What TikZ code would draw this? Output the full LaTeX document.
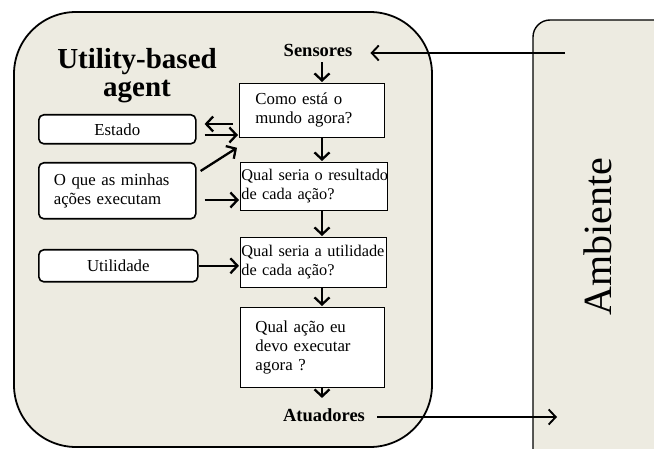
\documentclass[tikz,border=0pt]{standalone}
\usepackage{fontspec}
\setmainfont{Liberation Serif}
\usetikzlibrary{arrows.meta}
\definecolor{panel}{RGB}{237,235,225}
\begin{document}
\begin{tikzpicture}[x=1pt,y=-1pt,
  flow/.style={line width=2.3pt, -{Straight Barb[length=7pt,width=15pt,line width=2.3pt]}},
  link/.style={line width=1.9pt, -{Straight Barb[length=7pt,width=15pt,line width=1.9pt]}},
  qbox/.style={draw, fill=white, line width=0.8pt, anchor=north west, inner ysep=0pt,
    align=left, font=\fontsize{16.8}{19}\selectfont},
  mbox/.style={draw, fill=white, rounded corners=5pt, line width=1.6pt, anchor=north west,
    inner sep=0pt, font=\fontsize{16.8}{19}\selectfont},
  port/.style={font=\bfseries\fontsize{18.5}{20}\selectfont, inner sep=0pt, anchor=base},
]
\useasboundingbox (0,0) rectangle (654,449);
\clip (0,0) rectangle (654,449);

% environment panel
\draw[fill=panel, line width=1.4pt, rounded corners=17pt] (533,20) rectangle (680,480);
\node[rotate=90, font=\fontsize{40}{40}\selectfont, inner sep=0pt] (env) at (598,237) {Ambiente};

% agent panel
\draw[fill=panel, line width=1.8pt, rounded corners=62pt] (14,12) rectangle (432,447);
\node[font=\bfseries\fontsize{29}{28}\selectfont, align=center, inner sep=0pt] (title) at (137,76)
  {Utility-based\\agent};

% sensors and actuators
\node[port] (sens) at (318,57) {Sensores};
\node[port] (act) at (324,421) {Atuadores};
\coordinate (spine) at (322,0);

% reasoning chain
\node[qbox, inner xsep=16pt, text width=113pt, minimum height=54pt] (q1) at (239,83)
  {Como está o\\mundo agora?};
\node[qbox, inner xsep=1pt, text width=145pt, minimum height=48pt,
  font=\fontsize{16.3}{19}\selectfont] (q2) at (240,162)
  {\mbox{Qual seria o resultado}\\de cada ação?};
\node[qbox, inner xsep=1pt, text width=144pt, minimum height=50pt,
  font=\fontsize{16.3}{19}\selectfont] (q3) at (240,237)
  {\mbox{Qual seria a utilidade}\\de cada ação?};
\node[qbox, inner xsep=15pt, text width=114pt, minimum height=80pt] (q4) at (240,307)
  {Qual ação eu\\devo executar\\agora ?\\[5pt]};

% internal knowledge
\node[mbox, minimum width=157pt, minimum height=29pt] (estado) at (38,114) {Estado};
\node[mbox, minimum width=157pt, minimum height=56pt, align=left, text width=127pt,
  inner xsep=15pt] (oque) at (38,162) {O que as minhas\\ações executam};
\node[mbox, minimum width=159pt, minimum height=32pt] (util) at (38,249) {Utilidade};

% percepts and actions
\draw[link, shorten >=18pt] (565,53) -- (sens.east |- 0,53);
\draw[link, shorten <=12pt] (act.east |- 0,417) -- (557,417);

% main flow
\draw[flow, shorten <=5pt, shorten >=1pt] (sens.south -| spine) -- (q1.north -| spine);
\draw[flow, shorten >=1pt] (q1.south -| spine) -- (q2.north -| spine);
\draw[flow, shorten >=1pt] (q2.south -| spine) -- (q3.north -| spine);
\draw[flow, shorten >=1pt] (q3.south -| spine) -- (q4.north -| spine);
\draw[flow, shorten >=10pt] (q4.south -| spine) -- (act.north -| spine);

% links to the internal knowledge
\draw[flow, shorten <=6pt, shorten >=8pt] (q1.west |- 0,124) -- (estado.east |- 0,124);
\draw[flow, shorten <=8pt, shorten >=1pt] (estado.east |- 0,135) -- (q1.west |- 0,135);
\draw[flow] ([xshift=4pt,yshift=-9pt]oque.north east) -- ([xshift=-2pt,yshift=-10pt]q1.south west);
\draw[flow, shorten <=8pt, shorten >=1pt] (oque.east |- 0,200) -- (q2.west |- 0,200);
\draw[flow, shorten >=1pt] (util.east) -- (q3.west |- util.east);
\end{tikzpicture}
\end{document}
